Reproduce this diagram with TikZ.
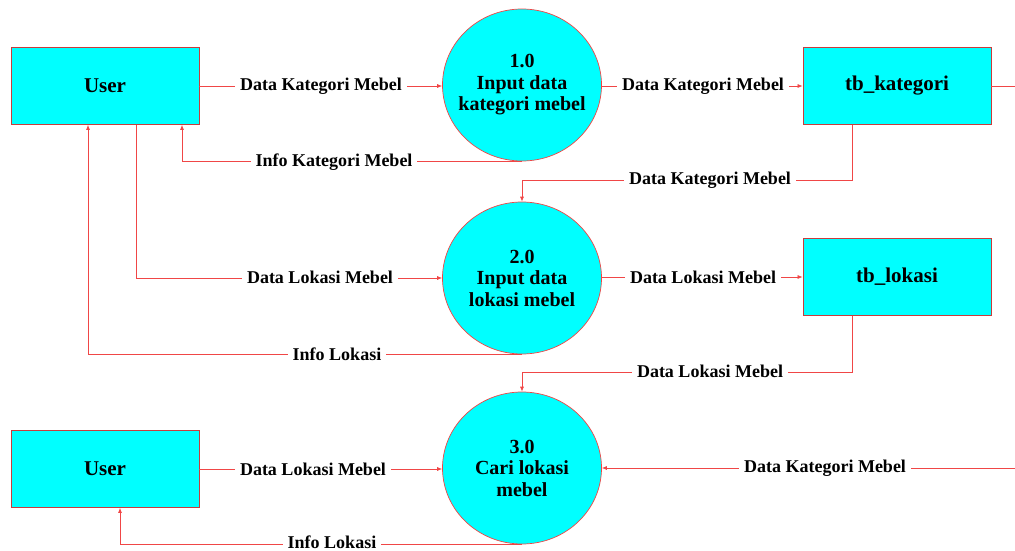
\documentclass[tikz,border=0pt]{standalone}
\usepackage{fontspec}
\setmainfont{Liberation Serif}
\usetikzlibrary{arrows.meta,shapes.geometric}
\definecolor{boxred}{RGB}{200,60,60}
\definecolor{linered}{RGB}{240,70,70}
\definecolor{fillcyan}{RGB}{0,255,255}
\begin{document}
\begin{tikzpicture}[x=1pt,y=-1pt,
  ent/.style={draw=boxred, line width=0.8pt, fill=fillcyan, minimum width=188pt, minimum height=77pt, inner sep=0pt, font=\bfseries\fontsize{21}{24}\selectfont},
  proc/.style={ellipse, draw=linered, line width=0.7pt, fill=fillcyan, minimum width=159pt, minimum height=152pt, inner sep=0pt},
  ptext/.style={align=center, inner sep=0pt, font=\bfseries\fontsize{20}{21.5}\selectfont},
  conn/.style={draw=linered, line width=0.7pt},
  flow/.style={conn, -{Latex[length=5pt,width=4pt]}},
  lbl/.style={fill=white, inner xsep=5pt, inner ysep=1pt, font=\bfseries\fontsize{18}{20}\selectfont}
]
\useasboundingbox (0,0) rectangle (1015,551);

\node[ent] (u1) at (105,86) {User};
\node[proc, label={[ptext]center:1.0\\Input data\\kategori mebel}] (p1) at (522,85) {};
\node[ent] (tk) at (897,86) {tb\_kategori};
\node[proc, label={[ptext]center:2.0\\Input data\\lokasi mebel}] (p2) at (522,278) {};
\node[ent] (tl) at (897,277) {tb\_lokasi};
\node[proc, label={[ptext]center:3.0\\Cari lokasi\\mebel}] (p3) at (522,468) {};
\node[ent] (u2) at (105,469) {User};
\coordinate (eR1) at (1015,86);
\coordinate (eR3) at (1015,468);

\draw[flow] (u1.east) -- (u1.east -| p1.west);
\draw[flow] (tk.west -| p1.east) -- (tk.west);
\draw[conn] (tk.east) -- (eR1);
\draw[flow] (p1.south) -| ([xshift=77pt]u1.south);
\draw[flow] ([xshift=-45pt]tk.south) -- ++(0,55) -| (p2.north);
\draw[flow] ([xshift=31pt]u1.south) |- (p2.west);
\draw[flow] (p2.south) -| ([xshift=-17pt]u1.south);
\draw[flow] (tl.west -| p2.east) -- (tl.west);
\draw[flow] ([xshift=-45pt]tl.south) -- ++(0,56) -| (p3.north);
\draw[flow] (u2.east) -- (u2.east -| p3.west);
\draw[flow] (eR3) -- (eR3 -| p3.east);
\draw[flow] (p3.south) -| ([xshift=15pt]u2.south);

\node[lbl] (l1) at (321,86) {Data Kategori Mebel};
\node[lbl] (l2) at (703,86) {Data Kategori Mebel};
\node[lbl] (l3) at (334,162) {Info Kategori Mebel};
\node[lbl] (l4) at (710,180) {Data Kategori Mebel};
\node[lbl] (l5) at (320,277) {Data Lokasi Mebel};
\node[lbl] (l6) at (337,354) {Info Lokasi};
\node[lbl] (l7) at (703,277) {Data Lokasi Mebel};
\node[lbl] (l8) at (710,371) {Data Lokasi Mebel};
\node[lbl] (l9) at (313,469) {Data Lokasi Mebel};
\node[lbl] (l10) at (825,468) {Data Kategori Mebel};
\node[lbl] (l11) at (332,542) {Info Lokasi};
\end{tikzpicture}
\end{document}
